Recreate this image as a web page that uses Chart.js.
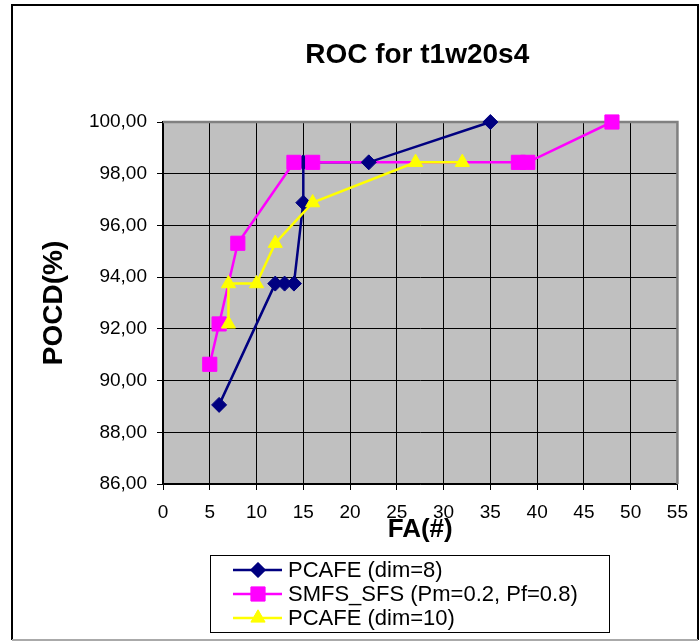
<!DOCTYPE html>
<html>
<head>
<meta charset="utf-8">
<title>ROC for t1w20s4</title>
<script src="https://cdn.jsdelivr.net/npm/chart.js@4.4.1/dist/chart.umd.min.js"></script>
<style>
  html, body { margin: 0; padding: 0; background: #fff; }
  #roc { display: block; }
</style>
</head>
<body>
<canvas id="roc" width="699" height="641"></canvas>
<script>
// FA (false alarms) vs POCD for each detector
const faPcafe8 = [6, 12, 13, 14, 15, 15, 22, 35];
const pocdPcafe8 = [89.06, 93.75, 93.75, 93.75, 96.88, 98.44, 98.44, 100];
const faSmfs = [5, 6, 8, 14, 16, 38, 39, 48];
const pocdSmfs = [90.63, 92.19, 95.31, 98.44, 98.44, 98.44, 98.44, 100];
const faPcafe10 = [7, 7, 10, 12, 16, 27, 32];
const pocdPcafe10 = [92.19, 93.75, 93.75, 95.31, 96.88, 98.44, 98.44];

const xTicks = [0, 5, 10, 15, 20, 25, 30, 35, 40, 45, 50, 55];
const yTicks = [86, 88, 90, 92, 94, 96, 98, 100];

const FONT = "'Liberation Sans', Arial, sans-serif";

const series = [
  { label: 'PCAFE (dim=8)', fa: faPcafe8, pocd: pocdPcafe8, color: '#000080', style: 'rectRot', r: 7.5 },
  { label: 'SMFS_SFS (Pm=0.2, Pf=0.8)', fa: faSmfs, pocd: pocdSmfs, color: '#FF00FF', style: 'rect', r: 10 },
  { label: 'PCAFE (dim=10)', fa: faPcafe10, pocd: pocdPcafe10, color: '#FFFF00', style: 'triangle', r: 8.2 },
];

function pts(s) { return s.fa.map((x, i) => ({ x, y: s.pocd[i] })); }

// lines go underneath, markers are painted afterwards (Excel style)
const lineSets = series.map((s, i) => ({
  label: s.label, data: pts(s), showLine: true, borderColor: s.color, borderWidth: 2.5,
  pointRadius: 0, pointHoverRadius: 0, clip: false, order: 10 - i,
}));
const markerSets = series.map((s, i) => ({
  label: s.label, data: pts(s), showLine: false, pointStyle: s.style, pointRadius: s.r, pointHoverRadius: s.r,
  backgroundColor: s.color, borderColor: s.color, pointBorderWidth: 1, clip: false, order: 5 - i,
}));

const chrome = {
  id: 'chrome',
  beforeDraw(chart) {
    const { ctx, chartArea: a } = chart;
    ctx.save();
    ctx.fillStyle = '#C0C0C0';
    ctx.fillRect(a.left, a.top, a.right - a.left, a.bottom - a.top);
    ctx.restore();
  },
  beforeDatasetsDraw(chart) {
    const { ctx, chartArea: a } = chart;
    ctx.save();
    ctx.strokeStyle = '#808080';
    ctx.lineWidth = 2.5;
    ctx.beginPath();
    ctx.moveTo(a.left, a.top);
    ctx.lineTo(a.right, a.top);
    ctx.lineTo(a.right, a.bottom);
    ctx.stroke();
    ctx.restore();
  },
  afterDraw(chart) {
    const { ctx, chartArea: a } = chart;
    ctx.save();
    // outer frame
    ctx.lineWidth = 2;
    ctx.strokeStyle = '#000';
    ctx.beginPath();
    ctx.moveTo(12, 640); ctx.lineTo(12, 5); ctx.lineTo(698, 5); ctx.lineTo(698, 640);
    ctx.stroke();
    ctx.strokeStyle = '#aaa';
    ctx.beginPath(); ctx.moveTo(12, 640); ctx.lineTo(698, 640); ctx.stroke();

    // title
    ctx.fillStyle = '#000';
    ctx.font = 'bold 28px ' + FONT;
    ctx.textAlign = 'center';
    ctx.textBaseline = 'middle';
    ctx.fillText('ROC for t1w20s4', (a.left + a.right) / 2 - 3, 55);

    // legend box
    const bx = 210, by = 555, bw = 399, bh = 77;
    ctx.lineWidth = 1;
    ctx.strokeStyle = '#000';
    ctx.strokeRect(bx + 0.5, by + 0.5, bw, bh);
    ctx.font = '22px ' + FONT;
    ctx.textAlign = 'left';
    series.forEach((s, i) => {
      const y = 570 + i * 24;
      ctx.strokeStyle = s.color;
      ctx.lineWidth = 2.5;
      ctx.beginPath(); ctx.moveTo(233, y); ctx.lineTo(282, y); ctx.stroke();
      ctx.fillStyle = s.color;
      ctx.lineWidth = 1;
      Chart.helpers.drawPoint(ctx, { pointStyle: s.style, radius: s.r, borderWidth: 1, rotation: 0 }, 258, y);
      ctx.fill();
      ctx.fillStyle = '#000';
      ctx.fillText(s.label, 288, y + 1);
    });
    ctx.restore();
  },
};

new Chart(document.getElementById('roc').getContext('2d'), {
  type: 'scatter',
  data: { datasets: [...lineSets, ...markerSets] },
  options: {
    responsive: false, animation: false,
    layout: { padding: { top: 122, left: 12, right: 21, bottom: 96 } },
    plugins: { legend: { display: false }, title: { display: false }, tooltip: { enabled: false } },
    scales: {
      x: {
        type: 'linear', min: 0, max: 55,
        afterBuildTicks: s => { s.ticks = xTicks.map(v => ({ value: v })); },
        afterFit: s => { s.height = 61; },
        ticks: { color: '#000', font: { family: FONT, size: 19 }, padding: 11, maxRotation: 0 },
        grid: { color: '#000', lineWidth: 1, tickLength: 6, tickColor: '#000' },
        border: { color: '#000', width: 1.5 },
        title: { display: true, text: 'FA(#)', color: '#000', font: { family: FONT, size: 26, weight: 'bold' }, padding: { top: 0, bottom: 0 } },
      },
      y: {
        type: 'linear', min: 86, max: 100,
        afterBuildTicks: s => { s.ticks = yTicks.map(v => ({ value: v })); },
        afterFit: s => { s.width = 151; },
        ticks: { color: '#000', font: { family: FONT, size: 19 }, padding: 10, callback: v => v.toFixed(2).replace('.', ',') },
        grid: { color: '#000', lineWidth: 1, tickLength: 6, tickColor: '#000' },
        border: { color: '#000', width: 1.5 },
        title: { display: true, text: 'POCD(%)', color: '#000', font: { family: FONT, size: 28, weight: 'bold' }, padding: { top: 25, bottom: 0 } },
      },
    },
  },
  plugins: [chrome],
});
</script>
</body>
</html>
